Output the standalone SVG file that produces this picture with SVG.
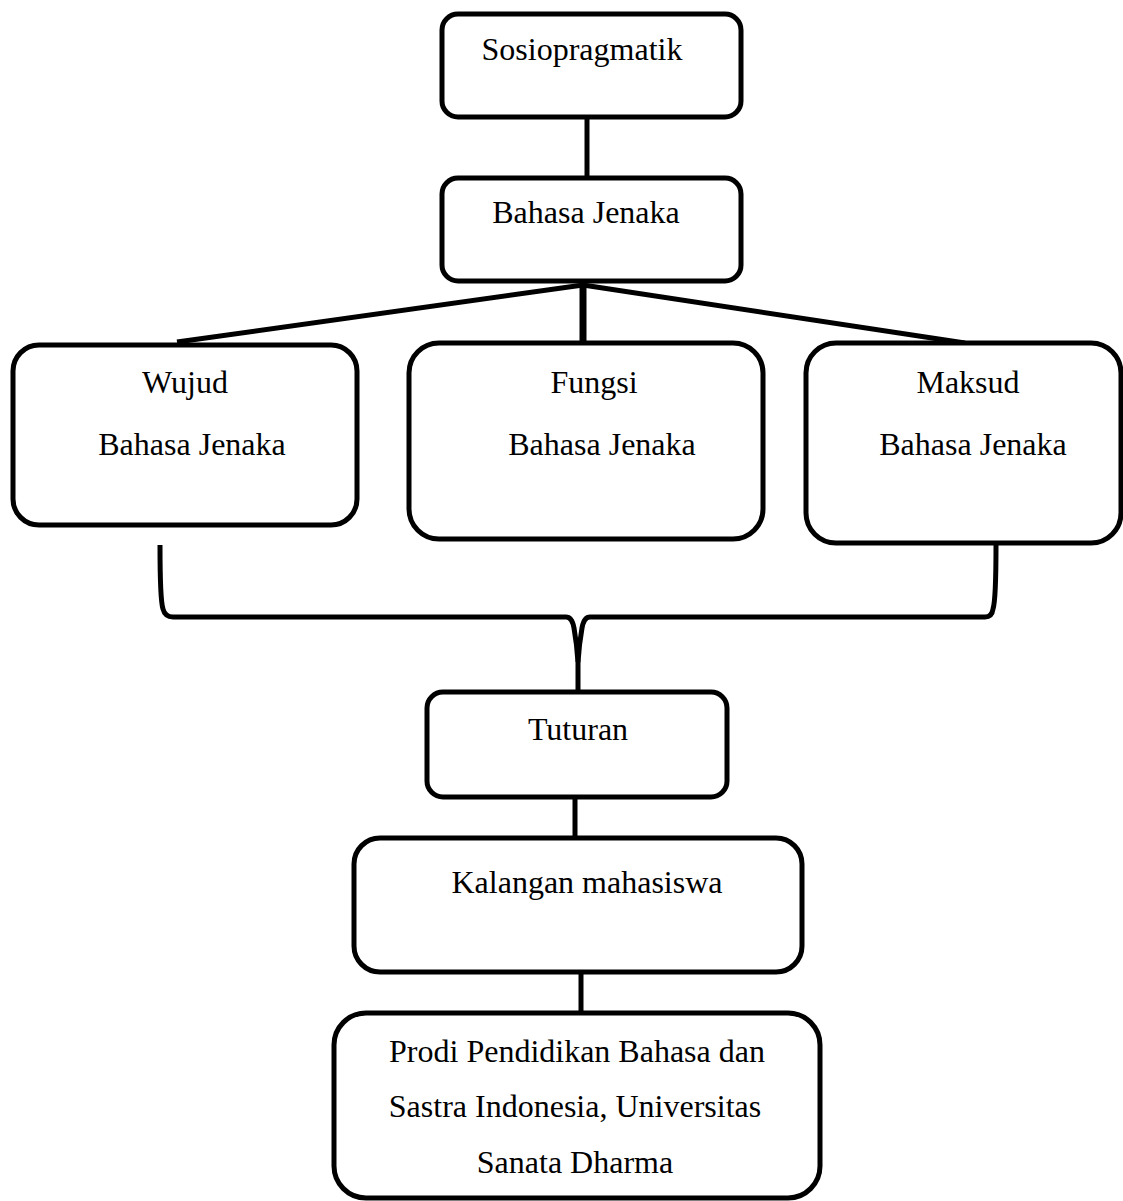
<svg xmlns="http://www.w3.org/2000/svg" width="1123" height="1201" viewBox="0 0 1123 1201">
<style>
.box{fill:#fff;stroke:#000;stroke-width:5}
.t{font-family:"Liberation Serif","Times New Roman",serif;font-size:32px;fill:#000;text-anchor:middle}
.c{fill:none;stroke:#000;stroke-width:5}
</style>
<rect width="1123" height="1201" fill="#fff"/>
<g id="connectors">
<line class="c" x1="587" y1="117" x2="587" y2="178"/>
<line class="c" x1="583" y1="285" x2="177" y2="342"/>
<line class="c" x1="583" y1="285" x2="965" y2="343"/>
<line class="c" x1="583" y1="282" x2="583" y2="344" style="stroke-width:7"/>
<path class="c" d="M160,545 C160,590 161,603 163,609 Q165,617 173,617 L566,617 Q572,617 574,628 Q577,645 578,662 L578,692"/>
<path class="c" d="M578,662 Q579,645 582,628 Q584,617 590,617 L985,617 Q992,617 993,609 C995,603 996,590 996,545"/>
<line class="c" x1="575" y1="797" x2="575" y2="838"/>
<line class="c" x1="581" y1="967" x2="581" y2="1013"/>
</g>
<g id="n1"><rect class="box" x="442" y="14" width="299" height="103" rx="16"/><text class="t" x="582" y="60">Sosiopragmatik</text></g>
<g id="n2"><rect class="box" x="442" y="178" width="299" height="103" rx="16"/><text class="t" x="586" y="223">Bahasa Jenaka</text></g>
<g id="n3"><rect class="box" x="13" y="345" width="344" height="180" rx="26"/><text class="t" x="185" y="393">Wujud</text><text class="t" x="192" y="455">Bahasa Jenaka</text></g>
<g id="n4"><rect class="box" x="409" y="343" width="354" height="196" rx="30"/><text class="t" x="594" y="393">Fungsi</text><text class="t" x="602" y="455">Bahasa Jenaka</text></g>
<g id="n5"><rect class="box" x="806" y="343" width="315" height="200" rx="30"/><text class="t" x="968" y="393">Maksud</text><text class="t" x="973" y="455">Bahasa Jenaka</text></g>
<g id="n6"><rect class="box" x="427" y="692" width="300" height="105" rx="16"/><text class="t" x="578" y="740">Tuturan</text></g>
<g id="n7"><rect class="box" x="354" y="838" width="448" height="134" rx="26"/><text class="t" x="587" y="893">Kalangan mahasiswa</text></g>
<g id="n8"><rect class="box" x="334" y="1013" width="486" height="185" rx="32"/><text class="t" x="577" y="1062">Prodi Pendidikan Bahasa dan</text><text class="t" x="575" y="1117">Sastra Indonesia, Universitas</text><text class="t" x="575" y="1173">Sanata Dharma</text></g>
</svg>
